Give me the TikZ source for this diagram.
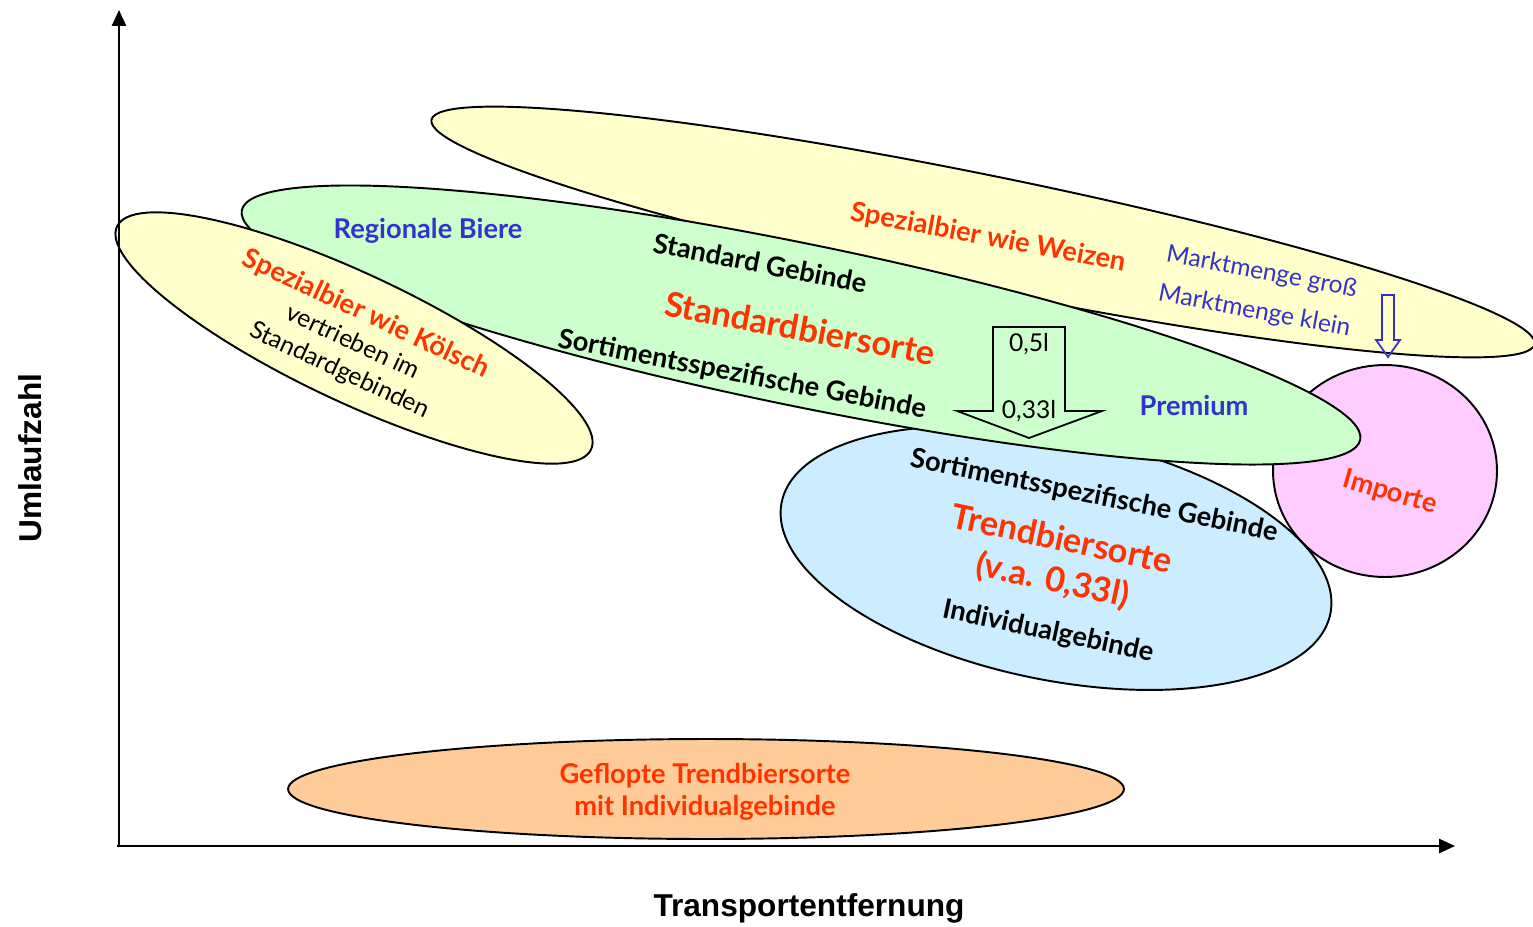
\documentclass[tikz,border=0pt]{standalone}
\usepackage{fontspec}
\setmainfont{Lato}
\newfontfamily\axisfont{Liberation Sans}
\usetikzlibrary{arrows.meta}
\usetikzlibrary{shapes.geometric}

\definecolor{hotred}{HTML}{FF3300}
\definecolor{deepblue}{HTML}{3333CC}
\definecolor{paleyellow}{HTML}{FFFFCC}
\definecolor{palegreen}{HTML}{CCFFCC}
\definecolor{paleblue}{HTML}{CCECFF}
\definecolor{palepink}{HTML}{FFCCFF}
\definecolor{paleorange}{HTML}{FFCC99}

\tikzset{
	blob/.style={draw, ellipse, line width=1.1pt, inner sep=0pt, outer sep=0pt},
	plain/.style={inner sep=0pt, align=center, font=\fontsize{14}{17.5}\selectfont},
	heavy/.style={inner sep=0pt, align=center, font=\fontsize{15.5}{18}\selectfont\bfseries},
	big/.style={inner sep=0pt, align=center, font=\fontsize{19.5}{23.8}\selectfont\bfseries},
	axislabel/.style={inner sep=0pt, font=\axisfont\fontsize{18}{20}\selectfont\bfseries},
	axis/.style={line width=1.2pt, -{Triangle[length=9pt, width=8pt]}},
	hollow/.style={line width=1pt, line join=miter}
}

\begin{document}
\begin{tikzpicture}[x=0.02cm, y=-0.02cm]
	\useasboundingbox (0,0) rectangle (1533,926);

	% market segments
	\node[blob, fill=palepink, minimum width=4.48cm, minimum height=4.24cm] (importe) at (1385,471) {};
	\node[blob, fill=paleblue, minimum width=11.2cm, minimum height=4.88cm, rotate=-11.5] (trend) at (1056,558) {};
	\node[blob, fill=paleyellow, minimum width=22.52cm, minimum height=2.28cm, rotate=-11.5] (weizen) at (983,232) {};
	\node[blob, fill=palegreen, minimum width=22.84cm, minimum height=3.24cm, rotate=-11.6] (standard) at (801,325) {};
	\node[blob, fill=paleyellow, minimum width=10.48cm, minimum height=2.56cm, rotate=-25.2] (koelsch) at (354,338) {};
	\node[blob, fill=paleorange, minimum width=16.72cm, minimum height=2cm] (geflopt) at (706,789) {};

	% axes
	\coordinate (origin) at (119,846);
	\coordinate (ytop) at (119,10);
	\coordinate (xend) at (1455,846);
	\draw[axis] (origin) -- (ytop);
	\draw[axis] (117,846) -- (xend);
	\node[axislabel, rotate=90] (ylabel) at (30,458) {Umlaufzahl};
	\node[axislabel] (xlabel) at (809,908) {Transportentfernung};

	% Weizen
	\node[heavy, text=hotred, rotate=-10.5] (weizentxt) at (988,238) {Spezialbier wie Weizen};
	\node[plain, text=deepblue, rotate=-10.5, font=\fontsize{14}{22.6}\selectfont] (menge) at (1258,292) {Marktmenge groß\\Marktmenge klein};
	\draw[hollow, deepblue] (1382,295) -- (1394,295) -- (1394,340) -- (1400,340) -- (1388,357) -- (1376,340) -- (1382,340) -- cycle;

	% Standard
	\node[heavy, text=deepblue] (regional) at (428,231) {Regionale Biere};
	\node[heavy, rotate=-11] (stdgeb) at (760,263) {Standard Gebinde};
	\node[big, text=hotred, rotate=-10.5] (stdsorte) at (800,328) {Standardbiersorte};
	\node[heavy, rotate=-11] (sortgeb) at (742,375) {Sortimentsspezifische Gebinde};
	\node[heavy, text=deepblue] (premium) at (1194,406) {Premium};
	\draw[hollow] (993,327) -- (1065,327) -- (1065,411) -- (1102,411) -- (1029,438) -- (957,411) -- (993,411) -- cycle;
	\node[plain] (halb) at (1029,344) {0,5l};
	\node[plain] (drittel) at (1029,411) {0,33l};

	% Koelsch
	\node[plain, rotate=-25] (koelschtxt) at (353,342) {{\color{hotred}\fontsize{15.5}{18}\selectfont\bfseries Spezialbier wie Kölsch}\\vertrieben im\\Standardgebinden};

	% Trend
	\node[heavy, rotate=-11.5] (sortgeb2) at (1094,496) {Sortimentsspezifische Gebinde};
	\node[big, text=hotred, rotate=-12] (trendtxt) at (1057,561) {Trendbiersorte\\(v.a. 0,33l)};
	\node[heavy, rotate=-12] (indiv) at (1048,632) {Individualgebinde};

	% Importe
	\node[heavy, text=hotred, rotate=-16] (importetxt) at (1390,493) {Importe};

	% Geflopt
	\node[heavy, text=hotred] (gefloptxt) at (705,792) {Geflopte Trendbiersorte\\mit Individualgebinde};
\end{tikzpicture}
\end{document}
